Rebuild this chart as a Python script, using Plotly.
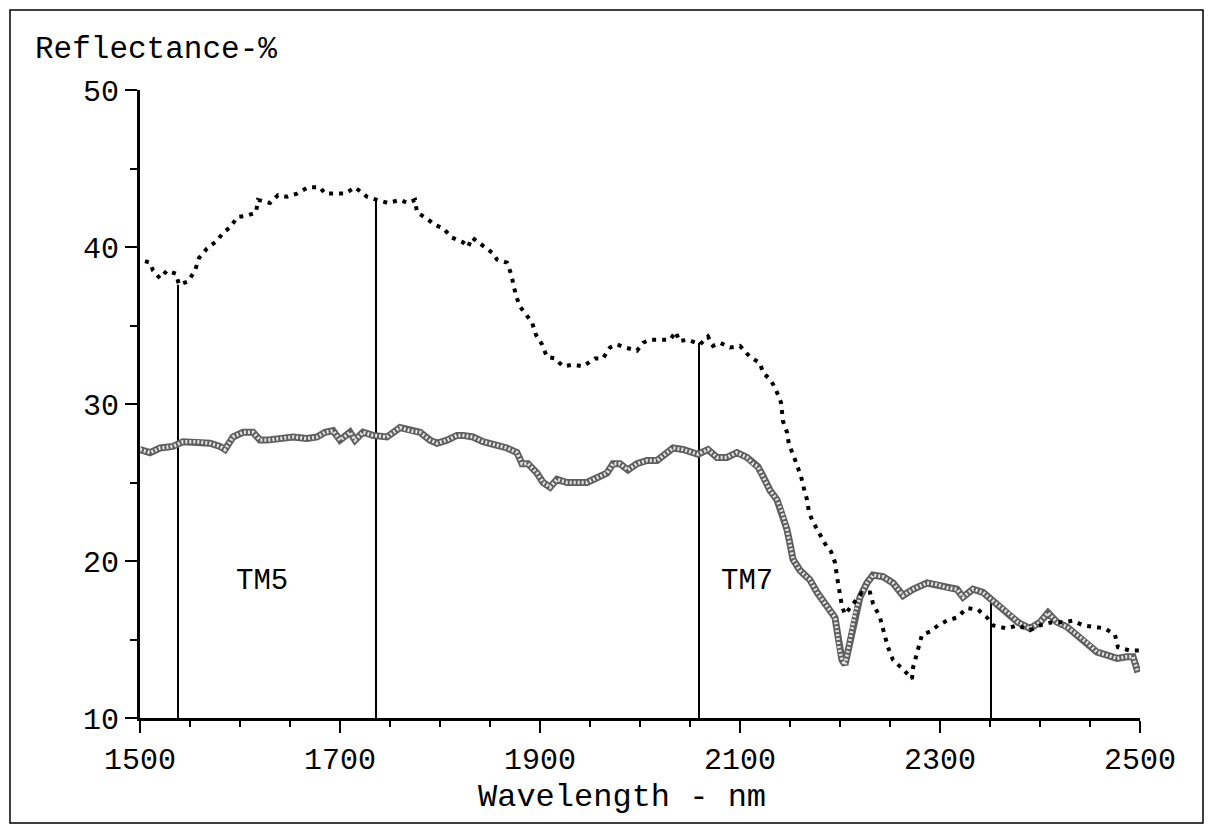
import plotly.graph_objects as go

# Dotted spectrum (upper curve)
dotted_wl = [1505, 1510, 1513, 1520, 1527, 1536, 1539, 1548, 1555, 1559, 1567, 1577, 1583, 1591, 1597,
             1607, 1616, 1618, 1630, 1638, 1647, 1657, 1668, 1680, 1685, 1693, 1705, 1715, 1727, 1737,
             1748, 1760, 1768, 1775, 1777, 1787, 1795, 1803, 1812, 1823, 1828, 1832, 1842, 1853, 1857,
             1867, 1871, 1873, 1876, 1880, 1885, 1892, 1896, 1902, 1907, 1915, 1923, 1933, 1943, 1955,
             1963, 1970, 1977, 1985, 1997, 2003, 2010, 2020, 2030, 2036, 2039, 2048, 2060, 2068, 2073,
             2080, 2090, 2100, 2110, 2120, 2123, 2131, 2136, 2141, 2142, 2143, 2147, 2149, 2153, 2158,
             2161, 2164, 2167, 2169, 2173, 2179, 2185, 2191, 2195, 2197, 2199, 2202, 2205, 2212, 2222,
             2230, 2233, 2240, 2242, 2245, 2248, 2253, 2263, 2272, 2273, 2277, 2282, 2290, 2298, 2307,
             2317, 2327, 2338, 2347, 2353, 2367, 2377, 2390, 2400, 2412, 2423, 2433, 2443, 2455, 2465,
             2475, 2478, 2490, 2500]
dotted_val = [39.1, 39.0, 38.5, 38.0, 38.5, 38.3, 37.6, 37.8, 38.5, 39.3, 39.9, 40.4, 40.9, 41.3, 41.9,
              42.0, 42.2, 43.0, 42.8, 43.3, 43.2, 43.4, 43.8, 43.8, 43.4, 43.4, 43.4, 43.8, 43.2, 43.0,
              42.8, 43.0, 42.8, 43.0, 42.2, 41.8, 41.4, 41.2, 40.6, 40.3, 40.0, 40.6, 40.1, 39.6, 39.2,
              39.0, 38.3, 37.6, 36.9, 36.2, 35.8, 35.2, 34.4, 33.8, 33.0, 32.9, 32.4, 32.5, 32.4, 32.9,
              32.9, 33.6, 33.8, 33.6, 33.4, 33.9, 34.1, 34.1, 34.1, 34.6, 34.0, 34.1, 33.8, 34.3, 33.7,
              33.9, 33.6, 33.7, 33.0, 32.6, 32.0, 31.5, 30.9, 30.1, 29.5, 28.9, 28.2, 27.4, 26.8, 26.0,
              25.4, 24.6, 23.9, 23.1, 22.5, 21.8, 21.1, 20.6, 19.9, 19.0, 18.2, 17.1, 16.6, 17.2, 18.0,
              18.0, 17.3, 16.4, 15.8, 15.2, 14.5, 13.7, 13.1, 12.5, 13.2, 14.1, 15.3, 15.5, 15.9, 16.2,
              16.4, 17.0, 16.9, 16.4, 15.9, 15.7, 15.9, 15.6, 15.9, 16.1, 16.1, 16.2, 15.9, 15.8, 15.7,
              15.3, 14.5, 14.3, 14.3]

# Hatched spectrum (lower curve)
hatched_wl = [1500, 1510, 1520, 1533, 1543, 1557, 1570, 1580, 1585, 1593, 1603, 1613, 1620, 1627, 1640,
              1653, 1667, 1677, 1685, 1693, 1700, 1710, 1715, 1723, 1733, 1747, 1760, 1770, 1780, 1790,
              1797, 1807, 1817, 1823, 1833, 1843, 1855, 1867, 1877, 1882, 1888, 1897, 1903, 1910, 1917,
              1927, 1937, 1947, 1957, 1967, 1973, 1980, 1988, 1997, 2007, 2017, 2027, 2033, 2043, 2053,
              2058, 2068, 2077, 2087, 2097, 2107, 2113, 2118, 2123, 2130, 2137, 2142, 2147, 2150, 2153,
              2160, 2170, 2177, 2187, 2195, 2197, 2199, 2202, 2205, 2208, 2212, 2215, 2220, 2227, 2233,
              2243, 2253, 2263, 2273, 2287, 2297, 2307, 2317, 2323, 2333, 2343, 2352, 2360, 2370, 2378,
              2390, 2400, 2408, 2417, 2427, 2437, 2447, 2457, 2467, 2477, 2487, 2493, 2498]
hatched_val = [27.1, 26.9, 27.2, 27.3, 27.6, 27.6, 27.5, 27.3, 27.1, 27.9, 28.2, 28.2, 27.7, 27.7, 27.8,
               27.9, 27.8, 27.9, 28.2, 28.3, 27.7, 28.2, 27.7, 28.2, 28.0, 27.9, 28.5, 28.3, 28.2, 27.7,
               27.5, 27.7, 28.0, 28.0, 27.9, 27.6, 27.4, 27.2, 26.9, 26.2, 26.2, 25.6, 25.0, 24.7, 25.2,
               25.0, 25.0, 25.0, 25.3, 25.6, 26.2, 26.2, 25.8, 26.2, 26.4, 26.4, 26.9, 27.2, 27.1, 26.9,
               26.8, 27.1, 26.6, 26.6, 26.9, 26.6, 26.2, 26.0, 25.4, 24.5, 23.9, 23.1, 22.0, 21.1, 20.1,
               19.4, 18.8, 18.0, 17.1, 16.4, 15.6, 14.5, 13.7, 13.4, 14.3, 15.6, 16.7, 17.7, 18.6, 19.1,
               19.0, 18.6, 17.8, 18.2, 18.6, 18.5, 18.3, 18.2, 17.7, 18.2, 18.0, 17.5, 17.1, 16.6, 16.1,
               15.7, 16.1, 16.7, 16.1, 15.8, 15.3, 14.8, 14.2, 14.0, 13.8, 13.9, 13.9, 12.9]

# Band edge markers (TM5 / TM7)
band_wl = [1538, 1736, 2059, 2351]
band_top = [37.6, 43.0, 33.9, 17.5]
band_labels = ["TM5", "TM7"]
band_label_wl = [1622, 2107]
band_label_val = [18.7, 18.7]

x_ticks = [1500, 1700, 1900, 2100, 2300, 2500]
y_ticks = [10, 20, 30, 40, 50]

FONT = "Liberation Mono, Courier New, monospace"

fig = go.Figure()

# band edge vertical lines
for wl, top in zip(band_wl, band_top):
    fig.add_trace(go.Scatter(x=[wl, wl], y=[10, top], mode="lines",
                             line=dict(color="black", width=2), hoverinfo="skip"))

# hatched curve: gray band with texture
fig.add_trace(go.Scatter(x=hatched_wl, y=hatched_val, mode="lines",
                         line=dict(color="#5e5e5e", width=7), hoverinfo="skip"))
fig.add_trace(go.Scatter(x=hatched_wl, y=hatched_val, mode="lines",
                         line=dict(color="#e4e4e4", width=3.5, dash="2px,2px"), hoverinfo="skip"))

# dotted curve
fig.add_trace(go.Scatter(x=dotted_wl, y=dotted_val, mode="lines",
                         line=dict(color="black", width=4, dash="4px,6px"), hoverinfo="skip"))

for txt, xv, yv in zip(band_labels, band_label_wl, band_label_val):
    fig.add_annotation(x=xv, y=yv, text=txt, showarrow=False,
                       font=dict(family=FONT, size=29, color="black"))

fig.add_annotation(x=-0.107, y=1.0637, xref="paper", yref="paper", text="Reflectance-%",
                   showarrow=False, xanchor="left", yanchor="middle",
                   font=dict(family=FONT, size=31, color="black"))
fig.add_annotation(x=0.482, y=-0.1258, xref="paper", yref="paper", text="Wavelength - nm",
                   showarrow=False, xanchor="center", yanchor="middle",
                   font=dict(family=FONT, size=32, color="black"))

# outer frame
fig.add_shape(type="rect", xref="paper", yref="paper", x0=-0.13, x1=1.063, y0=-0.1672, y1=1.1274,
              line=dict(color="black", width=1.5))

fig.update_layout(
    width=1213, height=834,
    margin=dict(l=140, r=73, t=90, b=116),
    paper_bgcolor="white", plot_bgcolor="white",
    showlegend=False,
    font=dict(family=FONT, color="black"),
)
fig.update_xaxes(range=[1500, 2500], tickvals=x_ticks, ticks="outside", ticklen=12, tickwidth=2,
                 tickcolor="black", showline=True, linecolor="black", linewidth=3,
                 showgrid=False, zeroline=False, tickfont=dict(family=FONT, size=30),
                 minor=dict(dtick=50, tick0=1500, ticks="outside", ticklen=6, tickwidth=2,
                            tickcolor="black", showgrid=False))
fig.update_yaxes(range=[10, 50], tickvals=y_ticks, ticks="outside", ticklen=12, tickwidth=2,
                 tickcolor="black", showline=True, linecolor="black", linewidth=3,
                 showgrid=False, zeroline=False, tickfont=dict(family=FONT, size=30),
                 minor=dict(dtick=5, tick0=10, ticks="outside", ticklen=7, tickwidth=2,
                            tickcolor="black", showgrid=False))

fig.write_html("out.html")
